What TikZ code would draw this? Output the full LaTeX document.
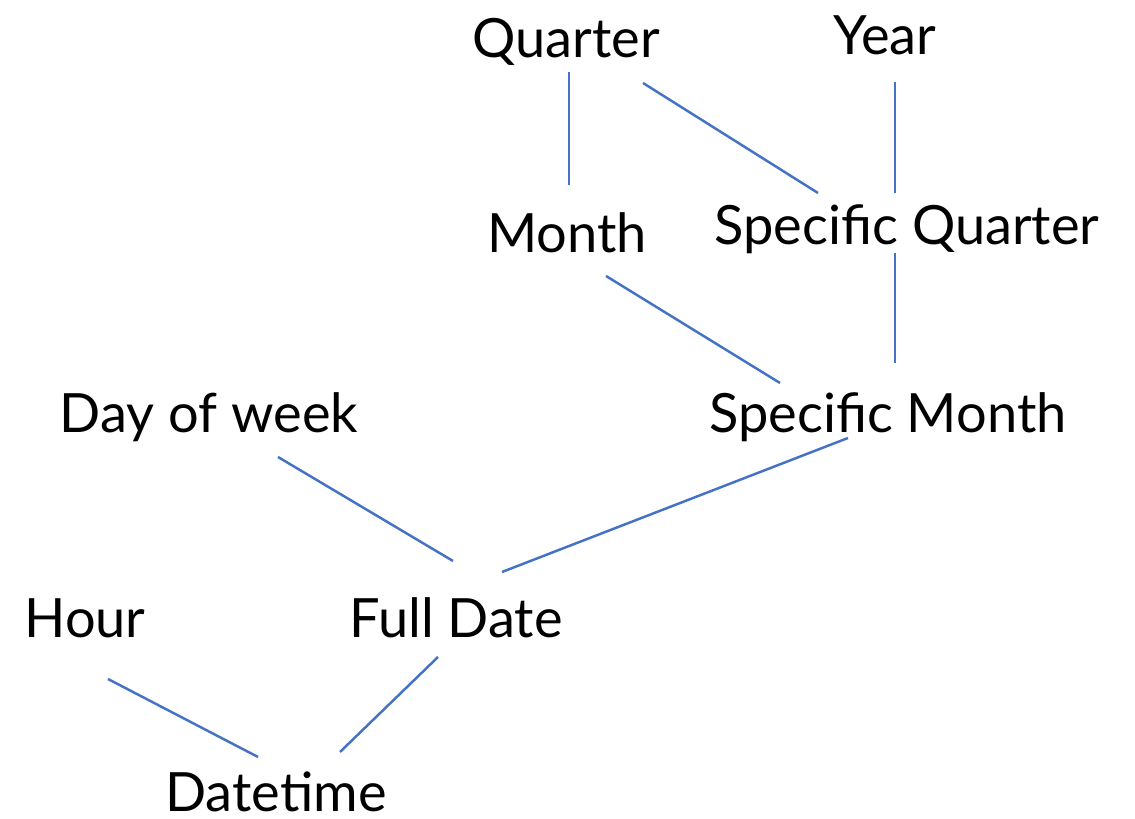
\documentclass[tikz,border=0pt]{standalone}
\usepackage{fontspec}
\setmainfont{Lato}
\usepackage{xcolor}
\usepackage{tikz}
\definecolor{linkblue}{HTML}{4472C4}
\tikzset{
    attr/.style={inner sep=0pt, anchor=base, font=\fontsize{15.4}{19}\selectfont},
    link/.style={draw=linkblue, line width=0.7pt}
}

\begin{document}
\begin{tikzpicture}[x=0.01cm, y=-0.01cm]
        \useasboundingbox (0,0) rectangle (1135,819);

        % Top level
        \node[attr] (Quarter) at (566,58) {Quarter};
        \node[attr] (Year) at (885,55) {Year};

        % Month level
        \node[attr] (Month) at (567,253) {Month};
        \node[attr] (SpecQ) at (907,245) {Specific Quarter};

        % Day level
        \node[attr] (DayWeek) at (209,433) {Day of week};
        \node[attr] (SpecM) at (888,433) {Specific Month};

        % Date level
        \node[attr] (Hour) at (85,638) {Hour};
        \node[attr] (FullDate) at (456,638) {Full Date};
        \node[attr] (Datetime) at (276,812) {Datetime};

        % Wires
        \draw[link] ([shift={(3,14)}]Quarter.base) -- ([shift={(2,-68)}]Month.base);
        \draw[link] ([shift={(77,25)}]Quarter.base) -- ([shift={(-89,-52)}]SpecQ.base);
        \draw[link] ([shift={(10,27)}]Year.base) -- ([shift={(-12,-52)}]SpecQ.base);
        \draw[link] ([shift={(-12,8)}]SpecQ.base) -- ([shift={(7,-70)}]SpecM.base);
        \draw[link] ([shift={(39,23)}]Month.base) -- ([shift={(-108,-50)}]SpecM.base);
        \draw[link] ([shift={(-40,5)}]SpecM.base) -- ([shift={(46,-66)}]FullDate.base);
        \draw[link] ([shift={(69,24)}]DayWeek.base) -- ([shift={(-3,-77)}]FullDate.base);
        \draw[link] ([shift={(-18,19)}]FullDate.base) -- ([shift={(64,-60)}]Datetime.base);
        \draw[link] ([shift={(23,41)}]Hour.base) -- ([shift={(-18,-55)}]Datetime.base);

    \end{tikzpicture}
\end{document}
